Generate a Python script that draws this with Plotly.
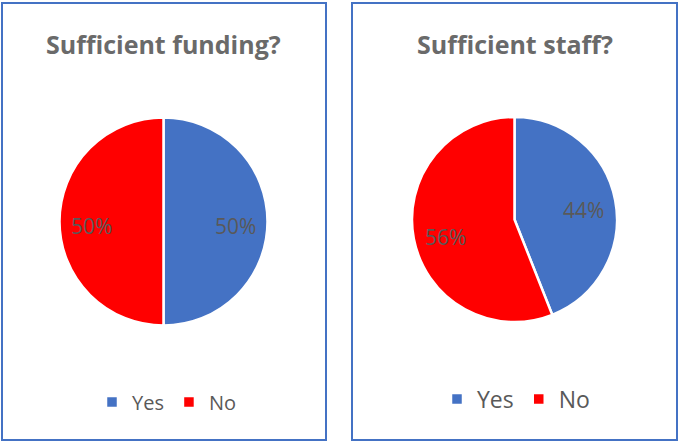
import math
import plotly.graph_objects as go

W, H = 680, 443

labels = ["Yes", "No"]
funding_values = [50, 50]
staff_values = [44, 56]
colors = ["#4472C4", "#FF0000"]
titles = ["Sufficient funding?", "Sufficient staff?"]

def px_x(v):
    return v / W

def px_y(v):
    return 1 - v / H

# pie geometry in pixels: (cx, cy, r)
pies = [
    dict(values=funding_values, cx=163.5, cy=221.5, r=104, legend="legend", labels=labels),
    # zero-width space keeps the second legend separate from the first
    dict(values=staff_values, cx=514.5, cy=219.5, r=102.5, legend="legend2",
         labels=[l + "\u200b" for l in labels]),
]

fig = go.Figure()
annotations = []
for p in pies:
    fig.add_trace(go.Pie(
        labels=p["labels"], values=p["values"], sort=False, direction="clockwise",
        marker=dict(colors=colors, line=dict(color="white", width=2.5)),
        textinfo="none",
        domain=dict(x=[px_x(p["cx"] - p["r"]), px_x(p["cx"] + p["r"])],
                    y=[px_y(p["cy"] + p["r"]), px_y(p["cy"] - p["r"])]),
        legend=p["legend"], hoverinfo="label+percent",
    ))
    total = sum(p["values"])
    start = 0.0
    for v in p["values"]:
        frac = v / total
        mid = (start + frac / 2) * 2 * math.pi
        start += frac
        rr = 0.69 * p["r"]
        x = p["cx"] + rr * math.sin(mid)
        y = p["cy"] - rr * math.cos(mid) + 4
        annotations.append(dict(
            text="%d%%" % round(frac * 100), x=px_x(x), y=px_y(y), xref="paper", yref="paper",
            showarrow=False, xanchor="center", yanchor="middle",
            font=dict(family="Open Sans", size=21, color="#595959")))

shapes = [
    dict(type="rect", xref="paper", yref="paper", x0=px_x(2), x1=px_x(326), y0=px_y(440), y1=px_y(3),
         line=dict(color="#4472C4", width=2)),
    dict(type="rect", xref="paper", yref="paper", x0=px_x(352), x1=px_x(677), y0=px_y(440), y1=px_y(3),
         line=dict(color="#4472C4", width=2)),
]

annotations += [
    dict(text="<b>%s</b>" % titles[0], x=px_x(163.5), y=px_y(44), xref="paper", yref="paper",
         showarrow=False, xanchor="center", yanchor="middle",
         font=dict(family="Open Sans", size=25, color="#6a6a6a")),
    dict(text="<b>%s</b>" % titles[1], x=px_x(515), y=px_y(44), xref="paper", yref="paper",
         showarrow=False, xanchor="center", yanchor="middle",
         font=dict(family="Open Sans", size=25, color="#6a6a6a")),
]

fig.update_layout(
    width=W, height=H, margin=dict(l=0, r=0, t=0, b=0),
    paper_bgcolor="white", plot_bgcolor="white",
    shapes=shapes, annotations=annotations,
    legend=dict(orientation="h", x=px_x(167), y=px_y(402), xanchor="center", yanchor="middle",
                font=dict(family="Open Sans", size=20, color="#595959"), itemwidth=30),
    legend2=dict(orientation="h", x=px_x(516), y=px_y(399), xanchor="center", yanchor="middle",
                 font=dict(family="Open Sans", size=23, color="#595959"), itemwidth=30),
)

fig.write_html("out.html", config={"displayModeBar": False},
               post_script="document.body.style.margin='0';")
